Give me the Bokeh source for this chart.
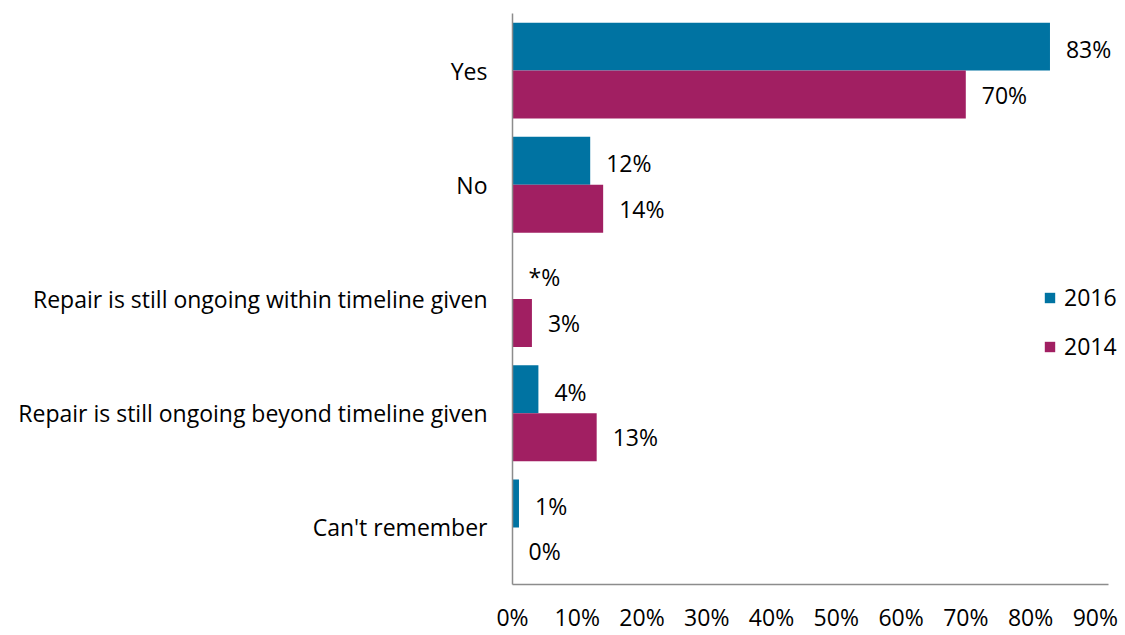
from bokeh.plotting import figure
from bokeh.models import FactorRange, ColumnDataSource, Legend, LegendItem, FixedTicker, CustomJSTickFormatter
from bokeh.transform import dodge
from bokeh.core.properties import value
from bokeh.embed import file_html
from bokeh.resources import INLINE

categories = ["Yes", "No", "Repair is still ongoing within timeline given",
              "Repair is still ongoing beyond timeline given", "Can't remember"]
values_2016 = [83, 12, 0, 4, 1]
values_2014 = [70, 14, 3, 13, 0]
labels_2016 = ["83%", "12%", "*%", "4%", "1%"]
labels_2014 = ["70%", "14%", "3%", "13%", "0%"]
x_ticks = [0, 10, 20, 30, 40, 50, 60, 70, 80, 90]

BLUE = "#0073A2"
MAGENTA = "#A11F62"
FONT = "Open Sans"
FS = "23px"

src = ColumnDataSource(dict(cat=categories, v16=values_2016, v14=values_2014,
                            l16=labels_2016, l14=labels_2014))

p = figure(width=1125, height=635, output_backend="svg", toolbar_location=None,
           y_range=FactorRange(factors=list(reversed(categories)), range_padding=0),
           x_range=(0, 94.2),
           min_border_left=512, min_border_right=3, min_border_top=13, min_border_bottom=46)

r16 = p.hbar(y=dodge("cat", 0.21, range=p.y_range), right="v16", left=0, height=0.42,
             source=src, fill_color=BLUE, line_color=None)
r14 = p.hbar(y=dodge("cat", -0.21, range=p.y_range), right="v14", left=0, height=0.42,
             source=src, fill_color=MAGENTA, line_color=None)

p.text(x="v16", y=dodge("cat", 0.19, range=p.y_range), text="l16", source=src,
       x_offset=16, text_baseline="middle", text_align="left",
       text_font=value(FONT), text_font_size=FS, text_color="#000000")
p.text(x="v14", y=dodge("cat", -0.21, range=p.y_range), text="l14", source=src,
       x_offset=16, text_baseline="middle", text_align="left",
       text_font=value(FONT), text_font_size=FS, text_color="#000000")

p.grid.visible = False
p.outline_line_color = None

p.xaxis.ticker = FixedTicker(ticks=x_ticks)
p.xaxis.bounds = (0, 92)
p.xaxis.formatter = CustomJSTickFormatter(code="return tick + '%';")
p.xaxis.major_tick_line_color = None
p.xaxis.minor_tick_line_color = None
p.xaxis.major_tick_out = 0
p.xaxis.major_tick_in = 0
p.xaxis.axis_line_color = "#8C8C8C"
p.xaxis.axis_line_width = 1.5
p.xaxis.major_label_standoff = 16
p.xaxis.major_label_text_line_height = 0.8
p.xaxis.major_label_text_font = FONT
p.xaxis.major_label_text_font_size = FS
p.xaxis.major_label_text_color = "#000000"

p.yaxis.major_tick_line_color = None
p.yaxis.minor_tick_line_color = None
p.yaxis.major_tick_out = 0
p.yaxis.major_tick_in = 0
p.yaxis.axis_line_color = "#8C8C8C"
p.yaxis.axis_line_width = 1.5
p.yaxis.major_label_standoff = 25
p.yaxis.major_label_text_font = FONT
p.yaxis.major_label_text_font_size = FS
p.yaxis.major_label_text_color = "#000000"

legend = Legend(items=[LegendItem(label="2016", renderers=[r16]),
                       LegendItem(label="2014", renderers=[r14])],
                location=(531, 222), orientation="vertical",
                glyph_width=13, glyph_height=13, label_standoff=8,
                label_height=20, spacing=17, padding=0, margin=0,
                border_line_color=None, background_fill_alpha=0,
                label_text_font=FONT, label_text_font_size=FS, label_text_color="#000000")
p.add_layout(legend, "center")

open("out.html", "w").write(file_html(p, INLINE))
